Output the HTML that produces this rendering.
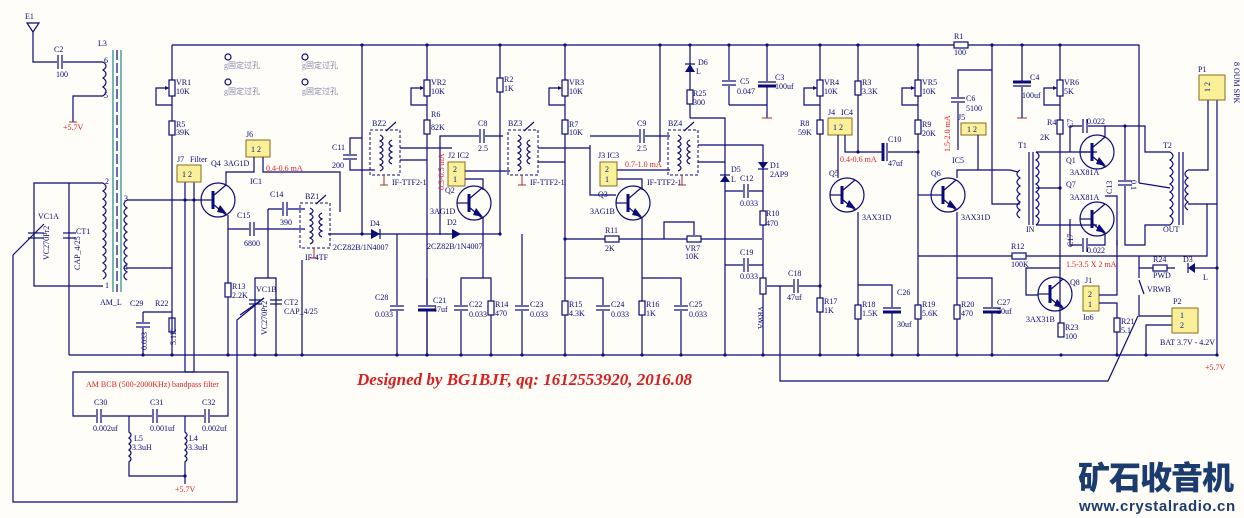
<!DOCTYPE html>
<html><head><meta charset="utf-8"><style>
html,body{margin:0;padding:0;background:#fffdf8;}
svg{display:block;}
.w{stroke:#0a0a78;stroke-width:1.2;fill:none;}
.d{stroke:#0a0a78;stroke-width:1;fill:none;stroke-dasharray:3,2;}
.t{font-family:"Liberation Serif",serif;font-size:8px;fill:#0a0a78;}
.r{font-family:"Liberation Serif",serif;font-size:8px;fill:#e02020;}
.g{font-family:"Liberation Serif","Noto Sans CJK SC",serif;font-size:8px;fill:#8888aa;}
.j{fill:#fbf09a;stroke:#8a6a20;stroke-width:1;}
.dot{fill:#0a0a78;}
</style></head><body>
<svg width="1244" height="518" viewBox="0 0 1244 518" xmlns="http://www.w3.org/2000/svg">
<defs>
<symbol id="q" overflow="visible"><g>
<circle cx="0" cy="0" r="17" class="w"/>
<line x1="-5" y1="-9" x2="-5" y2="9" stroke="#0a0a78" stroke-width="3"/>
<line x1="-17" y1="0" x2="-5" y2="0" class="w"/>
<line x1="-5" y1="-4" x2="8" y2="-15" class="w"/>
<line x1="-5" y1="4" x2="8" y2="15" class="w"/>
<polygon points="2,5 9,14 -1,12" fill="#0a0a78"/>
</g></symbol>
<symbol id="rv" overflow="visible"><rect x="-3" y="-7" width="6" height="14" fill="#fffdf8" stroke="#0a0a78" stroke-width="1.2"/></symbol>
<symbol id="rh" overflow="visible"><rect x="-7" y="-3" width="14" height="6" fill="#fffdf8" stroke="#0a0a78" stroke-width="1.2"/></symbol>
<symbol id="ch" overflow="visible"><rect x="-3" y="-7" width="6" height="14" fill="#fffdf8" stroke="none"/><line x1="-2" y1="-7" x2="-2" y2="7" class="w"/><line x1="2" y1="-7" x2="2" y2="7" class="w"/></symbol>
<symbol id="cv" overflow="visible"><rect x="-7" y="-3" width="14" height="6" fill="#fffdf8" stroke="none"/><line x1="-7" y1="-2" x2="7" y2="-2" class="w"/><line x1="-7" y1="2" x2="7" y2="2" class="w"/></symbol>
<symbol id="ce" overflow="visible"><rect x="-9" y="-3" width="18" height="6" fill="#fffdf8" stroke="none"/><line x1="-9" y1="-2" x2="9" y2="-2" class="w"/><line x1="-9" y1="2" x2="9" y2="2" stroke="#0a0a78" stroke-width="3"/></symbol>
<symbol id="pot" overflow="visible"><rect x="-3" y="-8" width="6" height="16" fill="#fffdf8" stroke="#0a0a78" stroke-width="1.2"/><polyline points="-4,0 -16,0 -16,17 0,17" class="w"/><polygon points="-3,0 -7,-2 -7,2" fill="#0a0a78"/></symbol>
<symbol id="coil" overflow="visible"><path d="M0,0 q6,4 0,8 q6,4 0,8 q6,4 0,8 q6,4 0,8 q6,4 0,8 q6,4 0,8 q6,4 0,8 q6,4 0,8 q6,4 0,8 q6,4 0,8 q6,4 0,8 q6,4 0,8" class="w"/></symbol>
<symbol id="coilL" overflow="visible"><path d="M0,0 q-6,4 0,8 q-6,4 0,8 q-6,4 0,8 q-6,4 0,8 q-6,4 0,8 q-6,4 0,8 q-6,4 0,8 q-6,4 0,8 q-6,4 0,8 q-6,4 0,8" class="w"/></symbol>
<symbol id="ifx" overflow="visible"><rect x="0" y="0" width="30" height="45" class="d"/>
<path d="M10,5 q6,3 0,6 q6,3 0,6 q6,3 0,6 q6,3 0,6 q6,3 0,6 q6,3 0,6" class="w"/>
<path d="M22,10 q-6,3 0,6 q-6,3 0,6 q-6,3 0,6 q-6,3 0,6" class="w"/>
<line x1="16" y1="1" x2="26" y2="-8" class="w"/><line x1="14" y1="45" x2="14" y2="55" stroke="#a03030"/><line x1="10" y1="55" x2="18" y2="55" stroke="#a03030"/></symbol>
</defs>

<polyline points="172,45 1139,45 1139,183" class="w"/>
<line x1="69" y1="355" x2="1217" y2="355" class="w"/>
<polyline points="13,255 13,502 237,502 237,320 264,298" class="w"/>
<polyline points="780,286 780,381 1108,381 1138,316" class="w"/>

<polygon points="27,23 39,23 33,32" class="w"/>
<polyline points="33,32 33,62 57,62" class="w"/><use href="#ch" x="60" y="62"/><line x1="63" y1="62" x2="103" y2="62" class="w"/>
<text class="t" x="25" y="19">E1</text><text class="t" x="54" y="52">C2</text><text class="t" x="56" y="77">100</text>
<text class="t" x="98" y="46">L3</text><text class="t" x="104" y="63">6</text><text class="t" x="104" y="98">5</text>
<path d="M103,62 q6,4 0,8 q6,4 0,8 q6,4 0,9 q6,4 0,9" class="w"/>
<polyline points="103,96 73,96 73,122" class="w"/><line x1="69" y1="122" x2="77" y2="122" stroke="#a03030"/>
<text class="r" x="63" y="130">+5.7V</text>
<line x1="113" y1="50" x2="113" y2="292" stroke="#1a8a8a" stroke-width="1.2"/>
<line x1="117" y1="50" x2="117" y2="292" stroke="#0a0a78" stroke-width="1.2" stroke-dasharray="10,3"/>
<line x1="121" y1="50" x2="121" y2="292" stroke="#1a8a8a" stroke-width="1.2"/>
<text class="t" x="100" y="305">AM_L</text>
<use href="#coil" x="103" y="183"/>
<text class="t" x="105" y="184">2</text><text class="t" x="105" y="288">1</text>
<polyline points="103,183 34,183 34,286 103,286" class="w"/>
<line x1="69" y1="183" x2="69" y2="355" class="w"/>
<line x1="28" y1="233" x2="44" y2="233" class="w"/><line x1="28" y1="238" x2="44" y2="238" class="w"/><line x1="13" y1="255" x2="44" y2="224" class="w"/>
<text class="t" x="38" y="219">VC1A</text><text class="t" x="49" y="260" transform="rotate(-90 49 260)">VC270Pr2</text>
<line x1="63" y1="233" x2="76" y2="233" class="w"/><line x1="63" y1="238" x2="76" y2="238" class="w"/>
<text class="t" x="76" y="234">CT1</text><text class="t" x="80" y="270" transform="rotate(-90 80 270)">CAP_4/25</text>
<use href="#coilL" x="127" y="200"/>
<text class="t" x="124" y="201">3</text><text class="t" x="124" y="270">4</text>
<polyline points="127,200 201,200" class="w"/><polyline points="127,268 172,268" class="w"/>
<circle class="dot" cx="185" cy="200" r="1.6"/><circle class="dot" cx="194" cy="200" r="1.6"/>
<polyline points="143,312 172,312" class="w"/><line x1="143" y1="312" x2="143" y2="355" class="w"/><use href="#cv" x="143" y="325"/>
<use href="#rv" x="172" y="325"/>
<text class="t" x="130" y="306">C29</text><text class="t" x="155" y="306">R22</text>
<text class="t" x="147" y="350" transform="rotate(-90 147 350)">0.033</text><text class="t" x="176" y="345" transform="rotate(-90 176 345)">5.1K</text>
<line x1="172" y1="45" x2="172" y2="355" class="w"/>
<use href="#pot" x="172" y="88"/><use href="#rv" x="172" y="128"/>
<text class="t" x="176" y="85">VR1</text><text class="t" x="176" y="94">10K</text><text class="t" x="176" y="127">R5</text><text class="t" x="176" y="135">39K</text>
<line x1="185" y1="180" x2="185" y2="372" class="w"/><line x1="194" y1="180" x2="194" y2="372" class="w"/>
<rect x="177" y="165" width="24" height="17" class="j"/><text class="t" x="182" y="177">1 2</text>
<text class="t" x="177" y="162">J7</text><text class="t" x="190" y="162">Filter</text>
<rect x="246" y="140" width="24" height="17" class="j"/><text class="t" x="251" y="152">1 2</text><text class="t" x="246" y="137">J6</text>
<use href="#q" x="218" y="200"/>
<text class="t" x="211" y="166">Q4</text><text class="t" x="224" y="166">3AG1D</text><text class="t" x="250" y="184">IC1</text>
<text class="r" x="266" y="171">0.4-0.6 mA</text>
<polyline points="226,186 226,172 254,172 254,157" class="w"/>
<polyline points="263,157 263,172 340,172 340,212" class="w"/>
<polyline points="228,215 228,355" class="w"/>
<line x1="228" y1="229" x2="305" y2="229" class="w"/><use href="#ch" x="252" y="229"/>
<text class="t" x="237" y="218">C15</text><text class="t" x="244" y="246">6800</text>
<use href="#rv" x="228" y="290"/><text class="t" x="232" y="289">R13</text><text class="t" x="232" y="298">2.2K</text>
<polyline points="268,209 268,278" class="w"/><polyline points="268,209 305,209" class="w"/><use href="#ch" x="285" y="209"/>
<text class="t" x="270" y="197">C14</text><text class="t" x="280" y="225">390</text>
<polyline points="255,355 255,278 276,278 276,355" class="w"/>
<line x1="249" y1="300" x2="262" y2="300" class="w"/><line x1="249" y1="304" x2="262" y2="304" class="w"/><line x1="240" y1="315" x2="264" y2="298" class="w"/>
<line x1="270" y1="300" x2="282" y2="300" class="w"/><line x1="270" y1="304" x2="282" y2="304" class="w"/>
<text class="t" x="256" y="292">VC1B</text><text class="t" x="284" y="305">CT2</text><text class="t" x="284" y="314">CAP_4/25</text>
<text class="t" x="267" y="335" transform="rotate(-90 267 335)">VC270Pr2</text>
<use href="#ifx" x="300" y="203"/><text class="t" x="305" y="199">BZ1</text><text class="t" x="305" y="260">IF-4TF</text>
<text class="t" x="333" y="250">2CZ82B/1N4007</text>
<line x1="302" y1="355" x2="302" y2="260" class="w"/>
<line x1="328" y1="234" x2="500" y2="234" class="w"/>
<polygon points="371,229 371,239 380,234" fill="#0a0a78"/><line x1="380" y1="229" x2="380" y2="239" class="w"/><text class="t" x="370" y="226">D4</text>
<g><circle cx="228" cy="57" r="3" class="w"/><text class="g" x="224" y="68">g固定过孔</text>
<circle cx="305" cy="57" r="3" class="w"/><text class="g" x="302" y="68">g固定过孔</text>
<circle cx="228" cy="82" r="3" class="w"/><text class="g" x="224" y="94">g固定过孔</text>
<circle cx="305" cy="82" r="3" class="w"/><text class="g" x="302" y="94">g固定过孔</text></g>
<line x1="362" y1="45" x2="362" y2="234" class="w"/>
<polyline points="362,138 350,138 350,170 375,170" class="w"/><use href="#cv" x="350" y="157"/>
<text class="t" x="332" y="150">C11</text><text class="t" x="332" y="168">200</text>
<use href="#ifx" x="370" y="130"/><text class="t" x="372" y="126">BZ2</text><text class="t" x="392" y="185">IF-TTF2-1</text>
<polyline points="400,148 452,148" class="w"/><polyline points="400,160 427,160" class="w"/>
<line x1="427" y1="45" x2="427" y2="355" class="w"/>
<use href="#pot" x="427" y="88"/><use href="#rv" x="427" y="127"/>
<text class="t" x="431" y="85">VR2</text><text class="t" x="431" y="94">10K</text><text class="t" x="431" y="117">R6</text><text class="t" x="431" y="130">82K</text>
<polyline points="440,235 440,136 503,136" class="w"/><use href="#ch" x="482" y="136"/>
<text class="t" x="478" y="126">C8</text><text class="t" x="478" y="151">2.5</text>
<rect x="448" y="162" width="17" height="24" class="j"/><text class="t" x="453" y="172">2</text><text class="t" x="453" y="182">1</text>
<text class="t" x="448" y="158">J2 IC2</text><text class="r" x="444" y="190" transform="rotate(-90 444 190)">0.3-0.5 mA</text>
<polyline points="465,171 510,171" class="w"/><polyline points="465,179 483,179 483,190" class="w"/>
<use href="#q" x="474" y="203"/><text class="t" x="445" y="193">Q2</text><text class="t" x="430" y="214">3AG1D</text>
<polygon points="452,229 452,239 461,234" fill="#0a0a78"/><text class="t" x="447" y="225">D2</text><text class="t" x="427" y="249">2CZ82B/1N4007</text>
<line x1="483" y1="217" x2="483" y2="278" class="w"/>
<line x1="500" y1="45" x2="500" y2="234" class="w"/><use href="#rv" x="500" y="85"/><text class="t" x="504" y="82">R2</text><text class="t" x="504" y="91">1K</text>
<line x1="522" y1="234" x2="522" y2="355" class="w"/>
<use href="#ifx" x="508" y="130"/><text class="t" x="508" y="126">BZ3</text><text class="t" x="530" y="185">IF-TTF2-1</text>
<polyline points="538,148 590,148" class="w"/><polyline points="538,162 565,162" class="w"/>
<line x1="565" y1="45" x2="565" y2="355" class="w"/>
<use href="#pot" x="565" y="88"/><use href="#rv" x="565" y="127"/>
<text class="t" x="569" y="85">VR3</text><text class="t" x="569" y="94">10K</text><text class="t" x="569" y="127">R7</text><text class="t" x="569" y="135">10K</text>
<polyline points="590,145 590,195 616,195" class="w"/><polyline points="590,136 670,136" class="w"/><use href="#ch" x="642" y="136"/>
<text class="t" x="637" y="126">C9</text><text class="t" x="637" y="151">2.5</text>
<rect x="600" y="162" width="17" height="24" class="j"/><text class="t" x="605" y="172">2</text><text class="t" x="605" y="182">1</text>
<text class="t" x="598" y="158">J3 IC3</text><text class="r" x="625" y="167">0.7-1.0 mA</text>
<polyline points="617,170 670,170" class="w"/><polyline points="617,179 642,179 642,190" class="w"/>
<use href="#q" x="633" y="203"/><text class="t" x="598" y="197">Q3</text><text class="t" x="590" y="214">3AG1B</text>
<line x1="642" y1="217" x2="642" y2="278" class="w"/>
<polyline points="565,239 762,239" class="w"/><use href="#rh" x="612" y="239"/><text class="t" x="605" y="233">R11</text><text class="t" x="605" y="251">2K</text>
<polyline points="664,239 664,222 694,222 694,235" class="w"/><use href="#rh" x="694" y="239"/>
<text class="t" x="685" y="251">VR7</text><text class="t" x="685" y="259">10K</text>
<line x1="660" y1="45" x2="660" y2="162" class="w"/>
<use href="#ifx" x="668" y="130"/><text class="t" x="668" y="126">BZ4</text><text class="t" x="647" y="185">IF-TTF2-1</text>
<polyline points="698,145 763,145 763,355" class="w"/><polyline points="698,162 725,162" class="w"/>
<line x1="690" y1="45" x2="690" y2="118" class="w"/><polyline points="690,118 725,118 725,355" class="w"/>
<polygon points="685,72 695,72 690,64" fill="#0a0a78"/><line x1="685" y1="64" x2="695" y2="64" class="w"/><text class="t" x="698" y="65">D6</text><text class="t" x="696" y="74">L</text>
<use href="#rv" x="690" y="97"/><text class="t" x="693" y="96">R25</text><text class="t" x="693" y="105">300</text>
<line x1="729" y1="45" x2="729" y2="105" class="w"/><polyline points="729,105 767,105" class="w"/><use href="#cv" x="729" y="83"/>
<text class="t" x="740" y="84">C5</text><text class="t" x="737" y="94">0.047</text>
<line x1="767" y1="45" x2="767" y2="118" class="w"/><use href="#ce" x="767" y="84"/><line x1="762" y1="118" x2="772" y2="118" stroke="#a03030"/>
<text class="t" x="775" y="80">C3</text><text class="t" x="775" y="89">100uf</text>
<polygon points="720,182 730,182 725,175" fill="#0a0a78"/><line x1="720" y1="175" x2="730" y2="175" class="w"/><text class="t" x="731" y="172">D5</text><text class="t" x="731" y="182">L</text>
<polygon points="758,162 768,162 763,169" fill="#0a0a78"/><line x1="758" y1="169" x2="768" y2="169" class="w"/><text class="t" x="770" y="168">D1</text><text class="t" x="770" y="177">2AP9</text>
<line x1="725" y1="191" x2="763" y2="191" class="w"/><use href="#ch" x="746" y="191"/><text class="t" x="740" y="181">C12</text><text class="t" x="740" y="206">0.033</text>
<use href="#rv" x="763" y="218"/><text class="t" x="766" y="216">R10</text><text class="t" x="766" y="226">470</text>
<line x1="725" y1="265" x2="763" y2="265" class="w"/><use href="#ch" x="746" y="265"/><text class="t" x="740" y="255">C19</text><text class="t" x="740" y="279">0.033</text>
<rect x="760" y="278" width="6" height="16" fill="#fffdf8" stroke="#0a0a78" stroke-width="1.2"/>
<text class="t" x="758" y="306" transform="rotate(90 758 306)">VRWA</text>
<polyline points="767,286 820,286" class="w"/><use href="#ch" x="796" y="286"/><text class="t" x="788" y="276">C18</text><text class="t" x="787" y="300">47uf</text>
<polyline points="427,278 427,355" class="w"/><use href="#ce" x="427" y="308"/><text class="t" x="433" y="303">C21</text><text class="t" x="433" y="312">47uf</text>
<polyline points="461,355 461,278 491,278 491,355" class="w"/><use href="#cv" x="461" y="308"/><use href="#rv" x="491" y="308"/>
<text class="t" x="469" y="307">C22</text><text class="t" x="469" y="317">0.033</text><text class="t" x="495" y="307">R14</text><text class="t" x="495" y="316">470</text>
<use href="#cv" x="522" y="308"/><text class="t" x="530" y="307">C23</text><text class="t" x="530" y="317">0.033</text>
<polyline points="565,278 603,278 603,355" class="w"/><use href="#rv" x="565" y="308"/><use href="#cv" x="603" y="308"/>
<text class="t" x="569" y="307">R15</text><text class="t" x="569" y="316">4.3K</text><text class="t" x="611" y="307">C24</text><text class="t" x="611" y="317">0.033</text>
<polyline points="642,278 681,278 681,355" class="w"/><line x1="642" y1="278" x2="642" y2="355" class="w"/><use href="#rv" x="642" y="308"/><use href="#cv" x="681" y="308"/>
<text class="t" x="646" y="307">R16</text><text class="t" x="646" y="316">1K</text><text class="t" x="689" y="307">C25</text><text class="t" x="689" y="317">0.033</text>
<line x1="397" y1="234" x2="397" y2="355" class="w"/><use href="#cv" x="397" y="308"/><text class="t" x="375" y="300">C28</text><text class="t" x="375" y="317">0.033</text>
<line x1="820" y1="45" x2="820" y2="355" class="w"/>
<use href="#pot" x="820" y="88"/><use href="#rv" x="820" y="127"/>
<text class="t" x="824" y="85">VR4</text><text class="t" x="824" y="94">10K</text><text class="t" x="800" y="126">R8</text><text class="t" x="798" y="135">59K</text>
<use href="#rv" x="820" y="305"/><text class="t" x="824" y="304">R17</text><text class="t" x="824" y="313">1K</text>
<rect x="828" y="118" width="24" height="17" class="j"/><text class="t" x="833" y="130">1 2</text><text class="t" x="828" y="115">J4</text><text class="t" x="841" y="115">IC4</text>
<text class="r" x="840" y="162">0.4-0.6 mA</text>
<polyline points="838,135 838,178" class="w"/>
<polyline points="845,135 845,152 918,152" class="w"/><line x1="858" y1="45" x2="858" y2="152" class="w"/><use href="#rv" x="858" y="88"/>
<text class="t" x="862" y="85">R3</text><text class="t" x="862" y="94">3.3K</text>
<use href="#ce" x="885" y="152" transform="rotate(90 885 152)"/><text class="t" x="888" y="142">C10</text><text class="t" x="888" y="166">47uf</text>
<use href="#q" x="847" y="195"/><text class="t" x="829" y="176">Q5</text><text class="t" x="862" y="220">3AX31D</text>
<line x1="858" y1="212" x2="858" y2="355" class="w"/><use href="#rv" x="858" y="312"/>
<text class="t" x="862" y="307">R18</text><text class="t" x="862" y="316">1.5K</text>
<polyline points="858,285 892,285 892,355" class="w"/><use href="#ce" x="892" y="310"/><text class="t" x="897" y="295">C26</text><text class="t" x="897" y="327">30uf</text>
<line x1="918" y1="45" x2="918" y2="355" class="w"/>
<use href="#pot" x="918" y="88"/><use href="#rv" x="918" y="127"/>
<text class="t" x="922" y="85">VR5</text><text class="t" x="922" y="94">10K</text><text class="t" x="922" y="127">R9</text><text class="t" x="922" y="136">20K</text>
<use href="#rv" x="918" y="312"/><text class="t" x="922" y="307">R19</text><text class="t" x="922" y="316">5.6K</text>
<line x1="918" y1="195" x2="931" y2="195" class="w"/>
<use href="#q" x="948" y="195"/><text class="t" x="931" y="176">Q6</text><text class="t" x="961" y="220">3AX31D</text><text class="t" x="952" y="163">IC5</text>
<polyline points="957,212 957,355" class="w"/><use href="#rv" x="957" y="312"/><text class="t" x="961" y="307">R20</text><text class="t" x="961" y="316">470</text>
<polyline points="957,278 992,278 992,355" class="w"/><use href="#ce" x="992" y="310"/><text class="t" x="997" y="305">C27</text><text class="t" x="997" y="314">30uf</text>
<polyline points="957,178 957,170 978,170" class="w"/>
<polyline points="958,150 958,70 992,70" class="w"/><use href="#cv" x="958" y="100"/><text class="t" x="966" y="101">C6</text><text class="t" x="966" y="111">5100</text>
<rect x="961" y="123" width="25" height="12" class="j"/><text class="t" x="967" y="132">1 2</text><text class="t" x="958" y="120">J5</text>
<text class="r" x="950" y="152" transform="rotate(-90 950 152)">1.5-2.0 mA</text>
<polyline points="978,135 978,170 1010,170 1018,172" class="w"/>
<polyline points="992,45 992,204 1020,204" class="w"/>
<use href="#rh" x="961" y="45"/><text class="t" x="954" y="39">R1</text><text class="t" x="954" y="55">100</text>
<line x1="1022" y1="45" x2="1022" y2="118" class="w"/><use href="#ce" x="1022" y="84" transform="rotate(180 1022 84)"/><line x1="1017" y1="118" x2="1027" y2="118" stroke="#a03030"/>
<text class="t" x="1030" y="80">C4</text><text class="t" x="1022" y="98">100uf</text>
<line x1="1060" y1="45" x2="1060" y2="335" class="w"/>
<use href="#pot" x="1060" y="88"/><use href="#rv" x="1060" y="127"/>
<text class="t" x="1064" y="85">VR6</text><text class="t" x="1064" y="94">5K</text><text class="t" x="1047" y="125">R4</text><text class="t" x="1040" y="140">2K</text>
<path d="M1020,170 q-6,4 0,8 q-6,4 0,8 q-6,4 0,8 q-6,4 0,8 q-6,4 0,8 q-6,4 0,8" class="w"/>
<line x1="1029" y1="152" x2="1029" y2="225" class="w"/><line x1="1033" y1="152" x2="1033" y2="225" class="w"/>
<path d="M1036,152 q6,4 0,8 q6,4 0,8 q6,4 0,8 q6,4 0,8 q6,4 0,8 q6,4 0,8 q6,4 0,8 q6,4 0,8 q6,4 0,9" class="w"/>
<text class="t" x="1018" y="148">T1</text><text class="t" x="1026" y="232">IN</text>
<polyline points="1036,152 1097,152" class="w"/><polyline points="1036,225 1097,225" class="w"/><line x1="1036" y1="188" x2="1060" y2="188" class="w"/>
<use href="#q" x="1097" y="152"/><use href="#q" x="1097" y="219"/>
<text class="t" x="1066" y="163">Q1</text><text class="t" x="1070" y="175">3AX81A</text><text class="t" x="1066" y="187">Q7</text><text class="t" x="1070" y="200">3AX81A</text>
<polyline points="1070,152 1070,126 1105,126 1105,137" class="w"/><use href="#ch" x="1085" y="126"/><text class="t" x="1087" y="124">0.022</text><text class="t" x="1073" y="128" transform="rotate(-90 1073 128)">C7</text>
<polyline points="1070,219 1070,245 1105,245 1105,234" class="w"/><use href="#ch" x="1085" y="245"/><text class="t" x="1087" y="253">0.022</text><text class="t" x="1073" y="247" transform="rotate(-90 1073 247)">C17</text>
<polyline points="1105,126 1145,126 1145,152 1170,152" class="w"/><polyline points="1105,196 1117,196 1117,245" class="w"/>
<polyline points="1125,126 1125,245 1145,245 1145,225 1170,225" class="w"/><use href="#cv" x="1125" y="183"/><text class="t" x="1112" y="194" transform="rotate(-90 1112 194)">C13</text><text class="t" x="1131" y="180" transform="rotate(90 1131 180)">0.1</text>
<line x1="1139" y1="183" x2="1170" y2="188" class="w"/>
<path d="M1170,152 q6,4 0,8 q6,4 0,8 q6,4 0,8 q6,4 0,8 q6,4 0,8 q6,4 0,8 q6,4 0,8 q6,4 0,8 q6,4 0,9" class="w"/>
<line x1="1179" y1="152" x2="1179" y2="225" class="w"/><line x1="1183" y1="152" x2="1183" y2="225" class="w"/>
<path d="M1188,170 q-6,4 0,8 q-6,4 0,8 q-6,4 0,8 q-6,4 0,8 q-6,4 0,8" class="w"/>
<text class="t" x="1163" y="148">T2</text><text class="t" x="1163" y="232">OUT</text>
<polyline points="1188,170 1208,170 1208,100" class="w"/><polyline points="1188,204 1217,204 1217,100" class="w"/>
<rect x="1199" y="75" width="26" height="25" class="j"/><text class="t" x="1210" y="92" transform="rotate(-90 1210 92)">1 2</text>
<text class="t" x="1198" y="72">P1</text><text class="t" x="1234" y="62" transform="rotate(90 1234 62)">8 OUM SPK</text>
<line x1="1217" y1="204" x2="1217" y2="355" class="w"/>
<polyline points="918,256 1207,256 1207,204" class="w"/><use href="#rh" x="1019" y="256"/><text class="t" x="1011" y="249">R12</text><text class="t" x="1011" y="267">100K</text>
<text class="r" x="1066" y="267">1.5-3.5 X 2 mA</text>
<polyline points="1060,268 1026,268 1026,295 1038,295" class="w"/>
<use href="#q" x="1055" y="294"/><text class="t" x="1070" y="285">Q8</text><text class="t" x="1026" y="322">3AX31B</text>
<use href="#rv" x="1061" y="330"/><text class="t" x="1065" y="330">R23</text><text class="t" x="1065" y="339">100</text>
<rect x="1083" y="286" width="16" height="25" class="j"/><text class="t" x="1088" y="297">2</text><text class="t" x="1088" y="307">1</text>
<text class="t" x="1085" y="283">J1</text><text class="t" x="1083" y="320">Io6</text>
<polyline points="1099,295 1117,295 1117,240" class="w"/><polyline points="1099,303 1117,303 1117,355" class="w"/><use href="#rv" x="1117" y="325"/>
<text class="t" x="1121" y="324">R21</text><text class="t" x="1121" y="333">5.1</text>
<polyline points="1139,256 1139,268 1175,268" class="w"/><use href="#rh" x="1160" y="268"/><text class="t" x="1153" y="262">R24</text><text class="t" x="1153" y="278">PWD</text>
<polygon points="1195,263 1195,273 1188,268" fill="#0a0a78"/><line x1="1188" y1="263" x2="1188" y2="273" class="w"/><line x1="1195" y1="268" x2="1217" y2="268" class="w"/>
<text class="t" x="1183" y="262">D3</text><text class="t" x="1203" y="280">L</text>
<polyline points="1139,268 1139,278" class="w"/><line x1="1139" y1="280" x2="1144" y2="294" class="w"/><polyline points="1139,295 1139,316 1172,316" class="w"/>
<text class="t" x="1147" y="292">VRWB</text>
<polyline points="1146,355 1146,325 1172,325" class="w"/>
<rect x="1172" y="308" width="26" height="25" class="j"/><text class="t" x="1180" y="318">1</text><text class="t" x="1180" y="328">2</text>
<text class="t" x="1173" y="304">P2</text><text class="t" x="1160" y="345">BAT 3.7V - 4.2V</text>
<text class="r" x="1205" y="370">+5.7V</text>
<polyline points="185,372 228,372 228,416 213,416" class="w"/><polyline points="194,372 73,372 73,416 96,416" class="w"/>
<line x1="96" y1="416" x2="213" y2="416" class="w"/>
<use href="#ch" x="99" y="416"/><use href="#ch" x="155" y="416"/><use href="#ch" x="207" y="416"/>
<text class="r" x="86" y="387">AM BCB (500-2000KHz) bandpass filter</text>
<text class="t" x="94" y="405">C30</text><text class="t" x="150" y="405">C31</text><text class="t" x="202" y="405">C32</text>
<text class="t" x="93" y="431">0.002uf</text><text class="t" x="150" y="431">0.001uf</text><text class="t" x="202" y="431">0.002uf</text>
<path d="M129,416 L129,432 q4,3 0,6 q4,3 0,6 q4,3 0,6 q4,3 0,6 q4,3 0,6 L129,476 L185,476" class="w"/>
<path d="M185,416 L185,432 q4,3 0,6 q4,3 0,6 q4,3 0,6 q4,3 0,6 q4,3 0,6 L185,484" class="w"/>
<text class="t" x="134" y="441">L5</text><text class="t" x="132" y="450">3.3uH</text><text class="t" x="189" y="441">L4</text><text class="t" x="188" y="450">3.3uH</text>
<text class="r" x="175" y="492">+5.7V</text>
<g class="dot">
<circle cx="362" cy="45" r="1.6"/><circle cx="427" cy="45" r="1.6"/><circle cx="500" cy="45" r="1.6"/><circle cx="565" cy="45" r="1.6"/><circle cx="660" cy="45" r="1.6"/><circle cx="690" cy="45" r="1.6"/><circle cx="729" cy="45" r="1.6"/><circle cx="767" cy="45" r="1.6"/><circle cx="820" cy="45" r="1.6"/><circle cx="858" cy="45" r="1.6"/><circle cx="918" cy="45" r="1.6"/><circle cx="992" cy="45" r="1.6"/><circle cx="1022" cy="45" r="1.6"/><circle cx="1060" cy="45" r="1.6"/>
<circle cx="143" cy="355" r="1.6"/><circle cx="172" cy="355" r="1.6"/><circle cx="228" cy="355" r="1.6"/><circle cx="255" cy="355" r="1.6"/><circle cx="276" cy="355" r="1.6"/><circle cx="302" cy="355" r="1.6"/><circle cx="397" cy="355" r="1.6"/><circle cx="427" cy="355" r="1.6"/><circle cx="461" cy="355" r="1.6"/><circle cx="491" cy="355" r="1.6"/><circle cx="522" cy="355" r="1.6"/><circle cx="565" cy="355" r="1.6"/><circle cx="603" cy="355" r="1.6"/><circle cx="642" cy="355" r="1.6"/><circle cx="681" cy="355" r="1.6"/><circle cx="725" cy="355" r="1.6"/><circle cx="763" cy="355" r="1.6"/><circle cx="820" cy="355" r="1.6"/><circle cx="858" cy="355" r="1.6"/><circle cx="892" cy="355" r="1.6"/><circle cx="918" cy="355" r="1.6"/><circle cx="957" cy="355" r="1.6"/><circle cx="992" cy="355" r="1.6"/><circle cx="1061" cy="355" r="1.6"/><circle cx="1117" cy="355" r="1.6"/><circle cx="1146" cy="355" r="1.6"/><circle cx="1217" cy="355" r="1.6"/>
<circle cx="362" cy="234" r="1.6"/><circle cx="500" cy="234" r="1.6"/><circle cx="565" cy="239" r="1.6"/><circle cx="820" cy="286" r="1.6"/><circle cx="858" cy="152" r="1.6"/><circle cx="918" cy="152" r="1.6"/><circle cx="1060" cy="188" r="1.6"/><circle cx="1125" cy="126" r="1.6"/><circle cx="1217" cy="268" r="1.6"/><circle cx="185" cy="476" r="1.6"/>
</g>
<text x="357" y="385" style="font-family:'Liberation Serif',serif;font-size:17px;font-weight:bold;font-style:italic;fill:#d81e1e;">Designed by BG1BJF, qq: 1612553920, 2016.08</text>
<text x="1078" y="489" style="font-family:'Noto Sans CJK SC','WenQuanYi Zen Hei',sans-serif;font-size:32px;font-weight:900;fill:#1c3c70;letter-spacing:-1px;">矿石收音机</text>
<text x="1079" y="511" style="font-family:'Liberation Sans',sans-serif;font-size:15px;font-weight:bold;fill:#1c3c70;letter-spacing:0.6px;">www.crystalradio.cn</text>
</svg>
</body></html>
